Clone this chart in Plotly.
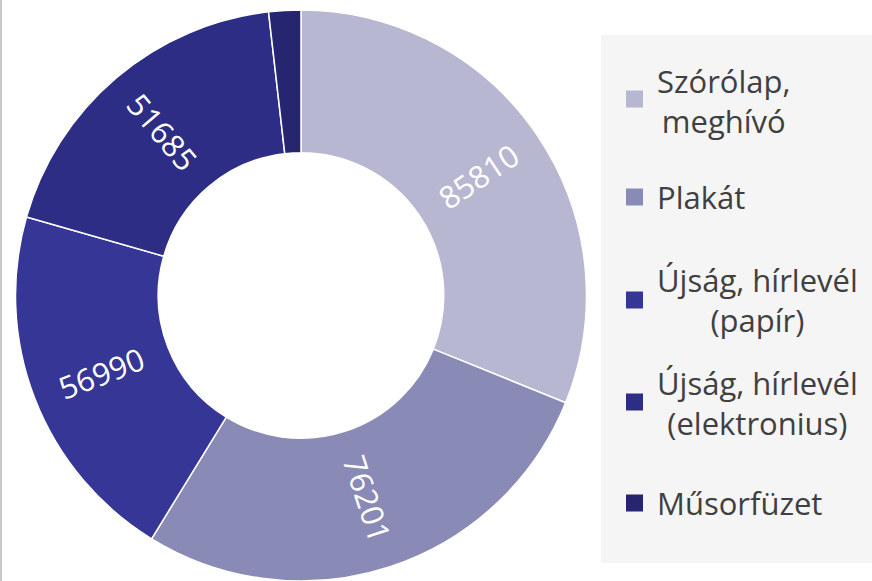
import math
import plotly.graph_objects as go

categories = ["Szórólap, meghívó", "Plakát", "Újság, hírlevél (papír)",
              "Újság, hírlevél (elektronius)", "Műsorfüzet"]
legend_labels = ["Szórólap,<br>meghívó", "Plakát", "Újság, hírlevél<br>(papír)",
                 "Újság, hírlevél<br>(elektronius)", "Műsorfüzet"]
values = [85810, 76201, 56990, 51685, 5000]
show_value = [True, True, True, True, False]
colors = ["#b7b7d1", "#8a8ab6", "#363696", "#2d2d85", "#25266f"]

W, H = 872, 581
FONT = "'Open Sans', Lato, sans-serif"
HOLE = 0.5

# pie domain in pixels
dom_x = (0, 602)
dom_y_top = 10  # px from top
fig = go.Figure(go.Pie(
    labels=categories,
    values=values,
    textinfo="none",
    hole=HOLE,
    sort=False,
    direction="clockwise",
    rotation=0,
    marker=dict(colors=colors, line=dict(color="white", width=1.5)),
    domain=dict(x=[dom_x[0] / W, dom_x[1] / W], y=[0, 1 - dom_y_top / H]),
    showlegend=False,
    hoverinfo="label+value+percent",
))

# radial value labels (as in the original), placed at each slice's middle
cx = (dom_x[0] + dom_x[1]) / 2
cy = (dom_y_top + H) / 2
R = min(dom_x[1] - dom_x[0], H - dom_y_top) / 2
r_lab = 0.5 * (1 + HOLE) * R
total = sum(values)
annotations = []
cum = 0
for v, show in zip(values, show_value):
    mid = (cum + v / 2) / total * 360.0
    cum += v
    if not show:
        continue
    t = math.radians(mid)
    px = cx + r_lab * math.sin(t)
    py = cy - r_lab * math.cos(t)
    ang = mid - 90
    if ang > 90:
        ang -= 180
    annotations.append(dict(text=str(v), x=px / W, y=1 - py / H, xref="paper", yref="paper",
                            xanchor="center", yanchor="middle", showarrow=False,
                            textangle=ang, font=dict(size=31, color="white", family=FONT)))

# custom legend (centered multi-line labels like the original)
marker_y = [99, 197, 300, 402, 503]
text_y = [101, 197, 300, 403, 503]
TEXT_LEFT = 655
shapes = [
    dict(type="rect", xref="paper", yref="paper",
         x0=601 / W, x1=1, y0=1 - 563 / H, y1=1 - 35 / H,
         fillcolor="#f5f5f5", line=dict(width=0), layer="below"),
    dict(type="line", xref="paper", yref="paper",
         x0=1 / W, x1=1 / W, y0=0, y1=1,
         line=dict(color="#c8c8c8", width=2)),
]
for lab, col, my, ty in zip(legend_labels, colors, marker_y, text_y):
    shapes.append(dict(type="rect", xref="paper", yref="paper",
                       x0=626 / W, x1=643 / W,
                       y0=1 - (my + 8.5) / H, y1=1 - (my - 8.5) / H,
                       fillcolor=col, line=dict(width=0)))
    annotations.append(dict(text=lab, xref="paper", yref="paper",
                            x=TEXT_LEFT / W, y=1 - ty / H, xanchor="left", yanchor="middle",
                            align="center", showarrow=False,
                            font=dict(size=31, color="#404040", family=FONT)))

fig.update_layout(
    width=W, height=H,
    margin=dict(l=0, r=0, t=0, b=0),
    paper_bgcolor="white",
    plot_bgcolor="white",
    shapes=shapes,
    annotations=annotations,
)

fig.write_html("out.html", config={"displayModeBar": False},
               post_script="document.body.style.margin='0px';")
